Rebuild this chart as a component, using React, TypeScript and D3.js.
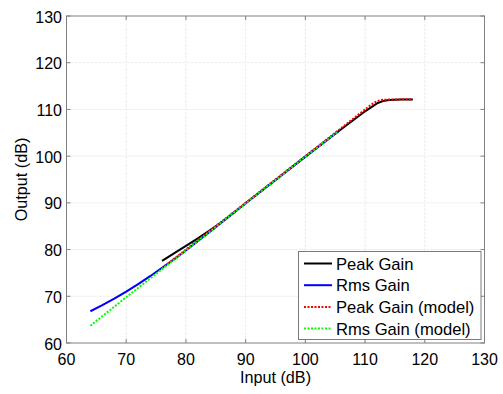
import React from "react";
import * as d3 from "d3";

// values
const peakX = [76, 78, 80, 82, 84, 86, 88, 90, 95, 100, 105, 108, 110, 112, 113, 114, 116, 118];
const peakY = [77.6, 79.2, 80.8, 82.4, 84.1, 85.9, 87.9, 89.9, 94.9, 99.9, 104.8, 107.7, 109.6, 111.3, 111.8, 112.0, 112.1, 112.1];

const rmsX = [64, 66, 68, 70, 72, 74, 76, 78, 80, 85, 90, 95, 100, 105.5];
const rmsY = [66.8, 68.1, 69.5, 71.0, 72.6, 74.3, 76.1, 77.9, 79.8, 84.8, 89.9, 94.9, 99.9, 105.3];

const peakModelX = [76, 80, 90, 100, 105, 110, 111, 112, 113, 114, 116, 118];
const peakModelY = [76, 80, 90, 100, 105, 110, 111, 111.8, 112.05, 112.1, 112.15, 112.2];

const rmsModelX = [64, 70, 80, 90, 100, 105.5];
const rmsModelY = [63.7, 69.8, 79.8, 89.9, 99.9, 105.3];

const xTicks = [60, 70, 80, 90, 100, 110, 120, 130];
const yTicks = [60, 70, 80, 90, 100, 110, 120, 130];

const seriesNames = ["Peak Gain", "Rms Gain", "Peak Gain (model)", "Rms Gain (model)"];

const W = 503;
const H = 394;
const left = 66.5, right = 484.5, top = 16, bottom = 343;
const font = "Liberation Sans, Arial, Helvetica, sans-serif";

export default function App() {
  const x = d3.scaleLinear().domain([60, 130]).range([left, right]);
  const y = d3.scaleLinear().domain([60, 130]).range([bottom, top]);

  const line = d3.line<[number, number]>()
    .x(d => x(d[0]))
    .y(d => y(d[1]));

  const zip = (a: number[], b: number[]) => a.map((v, i) => [v, b[i]] as [number, number]);

  const series = [
    { name: seriesNames[0], pts: zip(peakX, peakY), color: "#000000", dash: null },
    { name: seriesNames[1], pts: zip(rmsX, rmsY), color: "#0000ff", dash: null },
    { name: seriesNames[2], pts: zip(peakModelX, peakModelY), color: "#ff0000", dash: "2,1.5" },
    { name: seriesNames[3], pts: zip(rmsModelX, rmsModelY), color: "#00ff00", dash: "2,1.5" },
  ];

  const axisColor = "#808080";
  const tickLen = 4;

  // legend box
  const lx = 298.5, ly = 251.5, lw = 182.5, lh = 88;
  const rowH = 21.7;

  return (
    <svg width={W} height={H} style={{ position: "absolute", left: 0, top: 0, background: "#fff" }}
      fontFamily={font}>
      <rect x={0} y={0} width={W} height={H} fill="#fff" />
      {/* grid */}
      {xTicks.slice(1, -1).map(t => (
        <line key={"gx" + t} x1={x(t)} x2={x(t)} y1={top} y2={bottom}
          stroke="#ececec" strokeWidth={1} strokeDasharray="3,1" />
      ))}
      {yTicks.slice(1, -1).map(t => (
        <line key={"gy" + t} x1={left} x2={right} y1={y(t)} y2={y(t)}
          stroke="#ececec" strokeWidth={1} strokeDasharray="3,1" />
      ))}

      {/* data lines */}
      {series.map(s => (
        <path key={s.name} d={line(s.pts) || ""} fill="none" stroke={s.color}
          strokeWidth={2} strokeDasharray={s.dash || undefined} />
      ))}

      {/* axes box */}
      <rect x={left} y={top} width={right - left} height={bottom - top} fill="none"
        stroke={axisColor} strokeWidth={1} />
      {xTicks.map(t => (
        <g key={"tx" + t}>
          <line x1={x(t)} x2={x(t)} y1={bottom} y2={bottom - tickLen} stroke={axisColor} />
          <line x1={x(t)} x2={x(t)} y1={top} y2={top + tickLen} stroke={axisColor} />
          <text x={x(t)} y={bottom + 22} textAnchor="middle" fontSize={16} fill="#000">{t}</text>
        </g>
      ))}
      {yTicks.map(t => (
        <g key={"ty" + t}>
          <line x1={left} x2={left + tickLen} y1={y(t)} y2={y(t)} stroke={axisColor} />
          <line x1={right} x2={right - tickLen} y1={y(t)} y2={y(t)} stroke={axisColor} />
          <text x={left - 4.5} y={y(t) + 6.5} textAnchor="end" fontSize={16} fill="#000">{t}</text>
        </g>
      ))}

      {/* axis labels */}
      <text x={(left + right) / 2} y={383} textAnchor="middle" fontSize={16.2} fill="#000">Input (dB)</text>
      <text transform={`translate(26.7,${(top + bottom) / 2}) rotate(-90)`} textAnchor="middle"
        fontSize={16.2} fill="#000">Output (dB)</text>

      {/* legend */}
      <rect x={lx} y={ly} width={lw} height={lh} fill="#fff" stroke="#7a7a7a" strokeWidth={1} />
      {series.map((s, i) => {
        const cy = ly + 12 + i * rowH;
        return (
          <g key={"lg" + s.name}>
            <line x1={lx + 5.5} x2={lx + 33.5} y1={cy} y2={cy} stroke={s.color} strokeWidth={2}
              strokeDasharray={s.dash || undefined} />
            <text x={lx + 37.5} y={cy + 6} fontSize={16.6} fill="#000">{s.name}</text>
          </g>
        );
      })}
    </svg>
  );
}
